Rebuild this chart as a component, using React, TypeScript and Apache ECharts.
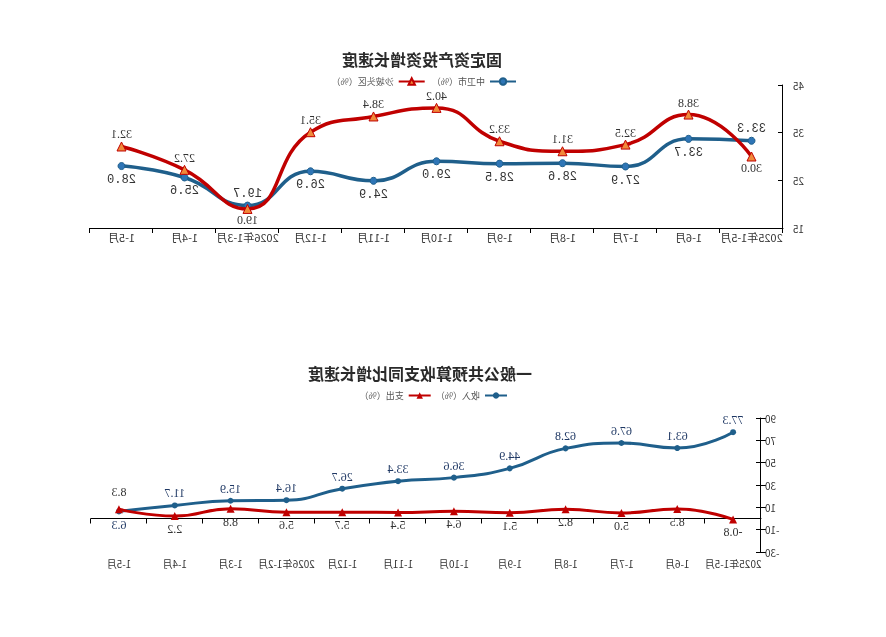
import React, { useEffect, useRef } from "react";
import * as echarts from "echarts";

const topCategories = ["2025年1-5月", "1-6月", "1-7月", "1-8月", "1-9月", "1-10月", "1-11月", "1-12月", "2026年1-3月", "1-4月", "1-5月"];
const zhongwei = [33.3, 33.7, 27.9, 28.6, 28.5, 29.0, 24.9, 26.9, 19.7, 25.6, 28.0];
const shapotou = [30.0, 38.8, 32.5, 31.1, 33.2, 40.2, 38.4, 35.1, 19.0, 27.2, 32.1];
const zhongweiAbove = [0, 8];
const shapotouBelow = [0, 8];

const bottomCategories = ["2025年1-5月", "1-6月", "1-7月", "1-8月", "1-9月", "1-10月", "1-11月", "1-12月", "2026年1-2月", "1-3月", "1-4月", "1-5月"];
const income = [77.3, 63.1, 67.6, 62.8, 44.9, 36.6, 33.4, 26.7, 16.4, 15.9, 11.7, 6.3];
const expenditure = [-0.8, 8.5, 5.0, 8.2, 5.1, 6.4, 5.4, 5.7, 5.6, 8.8, 2.2, 8.3];
const incomeBelow = [11];
const expenditureAbove = [11];

const RED = "#C00000";
const BLUE = "#1F5F8B";

export default function App() {
  const ref = useRef<HTMLDivElement>(null);
  useEffect(() => {
    if (!ref.current) return;
    const chart = echarts.init(ref.current, null, { renderer: "svg" });
    const fmt = (v: number) => v.toFixed(1);
    const topBlue = zhongwei.map((v, i) => ({
      value: v,
      label: zhongweiAbove.includes(i) ? { position: "top", distance: 2 } : { position: "bottom", distance: 4 },
    }));
    const topRed = shapotou.map((v, i) => ({
      value: v,
      label: shapotouBelow.includes(i) ? { position: "bottom", distance: 0 } : { position: "top", distance: 1 },
    }));
    const botBlue = income.map((v, i) => ({
      value: v,
      label: incomeBelow.includes(i) ? { position: "bottom", distance: 5 } : { position: "top", distance: 3 },
    }));
    const botRed = expenditure.map((v, i) => ({
      value: v,
      label: expenditureAbove.includes(i) ? { position: "top", distance: 7 } : { position: "bottom", distance: 3 },
    }));
    const axisLabelStyle = { color: "#333", fontSize: 11, fontFamily: "Noto Sans CJK SC" };
    const legendText = { fontSize: 9, color: "#555", fontFamily: "Noto Sans CJK SC" };
    const titleText = { fontSize: 16, fontWeight: "bold", color: "#2a2a2a", fontFamily: "Noto Sans CJK SC" };
    chart.setOption({
      animation: false,
      backgroundColor: "#fff",
      title: [
        { text: "固定资产投资增长速度", left: 459, top: 46, textAlign: "center", textStyle: titleText },
        { text: "一般公共预算收支同比增长速度", left: 461, top: 360, textAlign: "center", textStyle: titleText },
      ],
      legend: [
        {
          data: ["中卫市（%）", "沙坡头区（%）"],
          left: 364,
          top: 72,
          itemWidth: 26,
          itemHeight: 8,
          itemGap: 6,
          textStyle: legendText,
        },
        {
          data: ["收入（%）", "支出（%）"],
          left: 373,
          top: 386,
          itemWidth: 22,
          itemHeight: 8,
          itemGap: 4,
          textStyle: legendText,
        },
      ],
      grid: [
        { left: 103, right: 90, top: 85, height: 143 },
        { left: 125, right: 91, top: 418, height: 134 },
      ],
      xAxis: [
        {
          type: "category",
          gridIndex: 0,
          data: topCategories,
          boundaryGap: true,
          axisLine: { lineStyle: { color: "#000", width: 1 } },
          axisTick: { show: true, length: 5, lineStyle: { color: "#000" } },
          axisLabel: { ...axisLabelStyle, interval: 0, margin: 3 },
        },
        {
          type: "category",
          gridIndex: 1,
          data: bottomCategories,
          boundaryGap: true,
          axisLine: { lineStyle: { color: "#000", width: 1 } },
          axisTick: { show: true, length: 5, lineStyle: { color: "#000" } },
          axisLabel: { ...axisLabelStyle, fontSize: 10, interval: 0, margin: 6 },
        },
      ],
      yAxis: [
        {
          type: "value",
          gridIndex: 0,
          position: "left",
          min: 15,
          max: 45,
          interval: 10,
          splitLine: { show: false },
          axisLine: { show: true, lineStyle: { color: "#000" } },
          axisTick: { show: true, inside: true, length: 5, lineStyle: { color: "#000" } },
          axisLabel: { ...axisLabelStyle, fontSize: 10, margin: 10 },
        },
        {
          type: "value",
          gridIndex: 1,
          position: "left",
          min: -30,
          max: 90,
          interval: 20,
          splitLine: { show: false },
          axisLine: { show: true, lineStyle: { color: "#000" } },
          axisTick: { show: true, length: 5, lineStyle: { color: "#000" } },
          axisLabel: { ...axisLabelStyle, fontSize: 10, margin: 4 },
        },
        {
          type: "value",
          gridIndex: 1,
          position: "left",
          min: -30,
          max: 90,
          interval: 20,
          splitLine: { show: false },
          axisLine: { show: false },
          axisTick: { show: true, inside: true, length: 5, lineStyle: { color: "#000" } },
          axisLabel: { show: false },
        },
      ],
      series: [
        {
          name: "中卫市（%）",
          type: "line",
          xAxisIndex: 0,
          yAxisIndex: 0,
          smooth: 0.5,
          data: topBlue,
          symbol: "circle",
          symbolSize: 7,
          lineStyle: { color: BLUE, width: 3.5 },
          itemStyle: { color: "#2E75B6", borderColor: BLUE, borderWidth: 1 },
          label: {
            show: true,
            formatter: (p: any) => fmt(p.value),
            color: "#333",
            fontSize: 12,
            fontFamily: "Liberation Mono",
          },
          z: 2,
        },
        {
          name: "沙坡头区（%）",
          type: "line",
          xAxisIndex: 0,
          yAxisIndex: 0,
          smooth: 0.5,
          data: topRed,
          symbol: "triangle",
          symbolSize: 9,
          lineStyle: { color: RED, width: 3.5 },
          itemStyle: { color: "#F08A3A", borderColor: RED, borderWidth: 1 },
          label: {
            show: true,
            formatter: (p: any) => fmt(p.value),
            color: "#333",
            fontSize: 12,
            fontFamily: "Liberation Serif",
          },
          z: 3,
        },
        {
          name: "收入（%）",
          type: "line",
          xAxisIndex: 1,
          yAxisIndex: 1,
          smooth: 0.5,
          data: botBlue,
          symbol: "circle",
          symbolSize: 6,
          lineStyle: { color: BLUE, width: 3 },
          itemStyle: { color: BLUE },
          label: {
            show: true,
            formatter: (p: any) => fmt(p.value),
            color: "#1F3864",
            fontSize: 12,
            fontFamily: "Liberation Serif",
          },
          z: 2,
        },
        {
          name: "支出（%）",
          type: "line",
          xAxisIndex: 1,
          yAxisIndex: 1,
          smooth: 0.5,
          data: botRed,
          symbol: "triangle",
          symbolSize: 8,
          lineStyle: { color: RED, width: 3 },
          itemStyle: { color: RED },
          label: {
            show: true,
            formatter: (p: any) => fmt(p.value),
            color: "#333",
            fontSize: 12,
            fontFamily: "Liberation Serif",
          },
          z: 3,
        },
      ],
    });
    return () => chart.dispose();
  }, []);
  return (
    <div
      ref={ref}
      style={{
        position: "fixed",
        left: 0,
        top: 0,
        width: 886,
        height: 637,
        transform: "scaleX(-1)",
      }}
    />
  );
}
